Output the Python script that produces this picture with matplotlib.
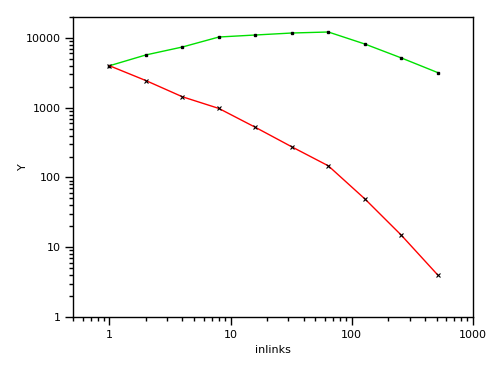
import matplotlib
matplotlib.use("Agg")
import matplotlib.pyplot as plt
from matplotlib.ticker import LogLocator, FixedLocator, NullFormatter

inlinks = [1, 2, 4, 8, 16, 32, 64, 128, 256, 512]
green_y = [4000, 5720, 7430, 10330, 11040, 11790, 12190, 8200, 5180, 3190]
red_y = [4000, 2450, 1436, 977, 524, 275, 147, 49.4, 14.9, 4.0]
x_ticks = [1, 10, 100, 1000]
x_tick_labels = ["1", "10", "100", "1000"]
y_ticks = [1, 10, 100, 1000, 10000]
y_tick_labels = ["1", "10", "100", "1000", "10000"]

fig = plt.figure(figsize=(4.9, 3.7), dpi=100)
ax = fig.add_axes([73/490, 1-317/370, 400/490, 300/370])

ax.plot(inlinks, green_y, color="#00e000", lw=1.0, marker="s", ms=2.0,
        mfc="black", mec="black")
ax.plot(inlinks, red_y, color="#ff0000", lw=1.0, marker="x", ms=2.5,
        mfc="black", mec="black", mew=0.8)

ax.set_xscale("log")
ax.set_yscale("log")
ax.set_xlim(0.5, 1000)
ax.set_ylim(1, 20000)

ax.xaxis.set_major_locator(FixedLocator(x_ticks))
ax.set_xticklabels(x_tick_labels)
ax.yaxis.set_major_locator(FixedLocator(y_ticks))
ax.set_yticklabels(y_tick_labels)
ax.xaxis.set_minor_locator(LogLocator(base=10, subs=range(2, 10), numticks=20))
ax.yaxis.set_minor_locator(LogLocator(base=10, subs=range(2, 10), numticks=20))
ax.xaxis.set_minor_formatter(NullFormatter())
ax.yaxis.set_minor_formatter(NullFormatter())

ax.tick_params(which="major", direction="out", length=6, width=1, labelsize=8, pad=3)
ax.tick_params(which="minor", direction="out", length=3, width=1)
ax.tick_params(top=False, right=False, which="both")
for s in ax.spines.values():
    s.set_linewidth(1)

ax.set_xlabel("inlinks", fontsize=8, labelpad=4)
ax.set_ylabel("Y", fontsize=8)
ax.yaxis.set_label_coords(-0.113, 0.5)

fig.savefig("out.png", dpi=100)
